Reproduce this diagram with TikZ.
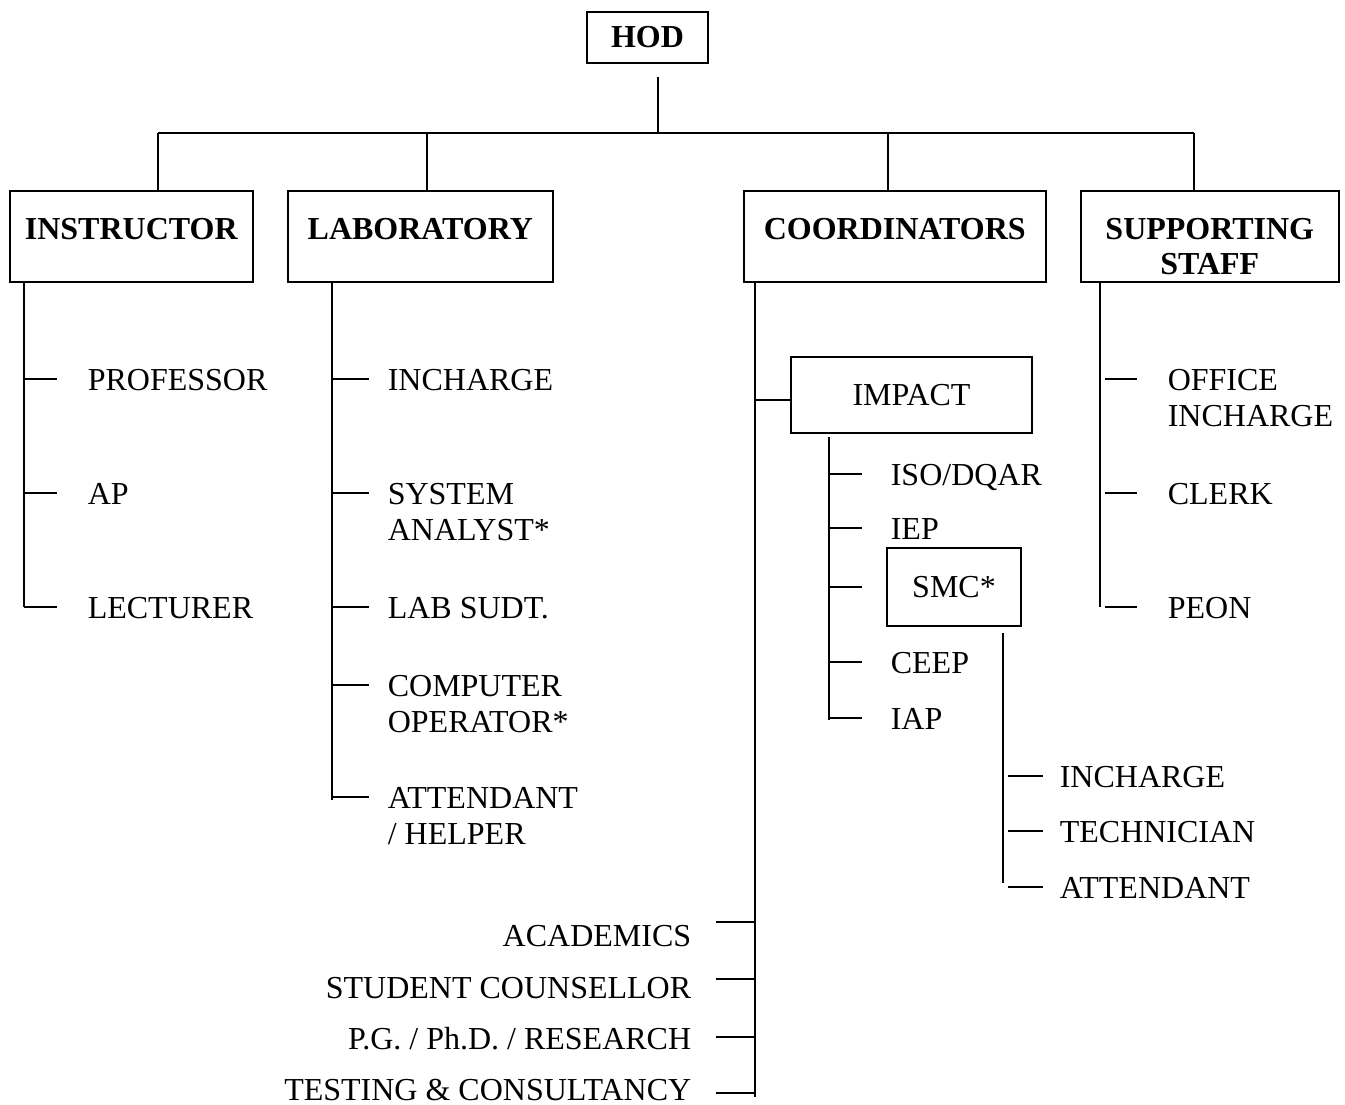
\documentclass[tikz,border=0pt]{standalone}
\usepackage{fontspec}
\setmainfont{Liberation Serif}
\usetikzlibrary{positioning}

\begin{document}
\begin{tikzpicture}[x=1pt,y=-1pt,line width=1.6pt,
    every node/.style={inner sep=0pt,font=\fontsize{32}{36}\selectfont},
    headbox/.style={draw,font=\fontsize{32}{35}\selectfont\bfseries,align=center,anchor=north west,
      minimum height=91pt,text height=21pt,text depth=15pt},
    item/.style={anchor=north west,yshift=10.5pt,align=left},
    ritem/.style={anchor=north east,yshift=10.5pt}]
  \useasboundingbox (0,0) rectangle (1345,1105);

  % head and the four sections
  \node[draw,font=\fontsize{32}{36}\selectfont\bfseries,minimum width=121pt,minimum height=51pt] (hod) at (647.5,37.5) {HOD};
  \node[headbox,minimum width=243pt] (instr) at (9,190) {INSTRUCTOR};
  \node[headbox,minimum width=265pt] (lab) at (287,190) {LABORATORY};
  \node[headbox,minimum width=302pt] (coord) at (743,190) {COORDINATORS};
  \node[headbox,minimum width=258pt,text height=76pt,text depth=0pt] (staff) at (1080,190) {SUPPORTING\\STAFF};

  \coordinate (stem) at (658,77);
  \draw (stem) -- (658,133);
  \draw (158,133) -- (1194,133);
  \foreach \x/\n in {158/instr,427/lab,888/coord,1194/staff}
    \draw (\x,133) -- (\x,0 |- \n.north);

  % instructor
  \draw (24,0 |- instr.south) -- (24,607);
  \foreach \y/\t/\n in {379/PROFESSOR/prof,493/AP/ap,607/LECTURER/lect}{
    \draw (24,\y) -- ++(33,0) coordinate (\n-end);
    \node[item] (\n) at ([xshift=30pt]\n-end) {\t};
  }

  % laboratory
  \draw (332,0 |- lab.south) -- (332,800);
  \foreach \y/\t/\n in {379/INCHARGE/linc,493/{SYSTEM\\ANALYST*}/sys,607/{LAB SUDT.}/lsup,
      685/{COMPUTER\\OPERATOR*}/cop,797/{ATTENDANT\\/ HELPER}/latt}{
    \draw (332,\y) -- ++(37,0) coordinate (\n-end);
    \node[item] (\n) at ([xshift=18pt]\n-end) {\t};
  }

  % coordinators
  \draw (755,0 |- coord.south) -- (755,1097);
  \node[draw,minimum width=241pt,minimum height=76pt] (impact) at (911.5,395) {IMPACT};
  \coordinate (imp-t) at (755,400);
  \draw (imp-t) -- (imp-t -| impact.west);

  \draw (829,437) -- (829,720);
  \foreach \y/\t/\n in {474/{ISO/DQAR}/iso,528/IEP/iep,662/CEEP/ceep,718/IAP/iap}{
    \draw (829,\y) -- ++(33,0) coordinate (\n-end);
    \node[item] (\n) at ([xshift=28pt]\n-end) {\t};
  }
  \node[draw,minimum width=134pt,minimum height=78pt] (smc) at (954,587) {SMC*};
  \draw (829,587) -- ++(33,0) coordinate (smc-end);

  \draw (1003,633) -- (1003,883);
  \foreach \y/\t/\n in {776/INCHARGE/sinc,831/TECHNICIAN/tech,887/ATTENDANT/satt}{
    \draw (1008,\y) -- ++(35,0) coordinate (\n-end);
    \node[item] (\n) at ([xshift=16pt]\n-end) {\t};
  }

  \foreach \y/\l/\t/\n in {922/935/ACADEMICS/acad,979/987/{STUDENT COUNSELLOR}/couns,
      1037/1037/{P.G. / Ph.D. / RESEARCH}/pgr,1093/1089/{TESTING \& CONSULTANCY}/test}{
    \draw (755,\y) -- (716,\y);
    \node[ritem] (\n) at (692,\l) {\t};
  }

  % supporting staff
  \draw (1100,0 |- staff.south) -- (1100,607);
  \foreach \y/\t/\n in {379/{OFFICE\\INCHARGE}/off,493/CLERK/clerk,607/PEON/peon}{
    \draw (1105,\y) -- ++(32,0) coordinate (\n-end);
    \node[item] (\n) at ([xshift=30pt]\n-end) {\t};
  }
\end{tikzpicture}
\end{document}
